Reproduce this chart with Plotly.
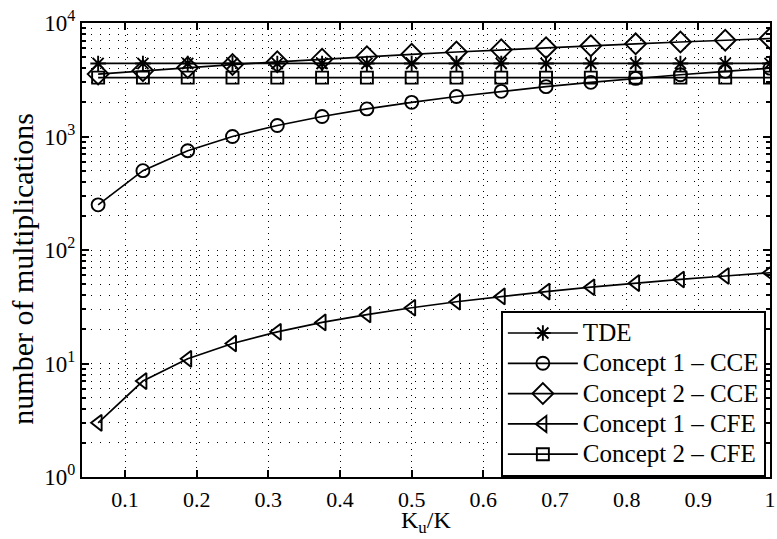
import plotly.graph_objects as go

# K_u / K ratios (1/16 ... 16/16)
ku_ratio = [0.0625, 0.125, 0.1875, 0.25, 0.3125, 0.375, 0.4375, 0.5,
            0.5625, 0.625, 0.6875, 0.75, 0.8125, 0.875, 0.9375, 1.0]

# number of multiplications per scheme
tde = [4400, 4400, 4400, 4400, 4400, 4400, 4400, 4400,
       4400, 4400, 4400, 4400, 4400, 4400, 4400, 4400]
concept1_cce = [250, 500, 750, 1000, 1250, 1500, 1750, 2000,
                2250, 2500, 2750, 3000, 3250, 3500, 3750, 4000]
concept2_cce = [3550, 3800, 4050, 4300, 4550, 4800, 5050, 5300,
                5550, 5800, 6050, 6300, 6550, 6800, 7050, 7300]
concept1_cfe = [3, 7, 11, 15, 19, 23, 27, 31,
                35, 39, 43, 47, 51, 55, 59, 63]
concept2_cfe = [3300, 3300, 3300, 3300, 3300, 3300, 3300, 3300,
                3300, 3300, 3300, 3300, 3300, 3300, 3300, 3300]

series_names = ["TDE", "Concept 1 \u2013 CCE", "Concept 2 \u2013 CCE",
                "Concept 1 \u2013 CFE", "Concept 2 \u2013 CFE"]
series_values = [tde, concept1_cce, concept2_cce, concept1_cfe, concept2_cfe]
series_symbols = ["asterisk-open", "circle-open", "diamond-open",
                  "triangle-left-open", "square-open"]
series_sizes = [13, 13, 16, 14, 12]

x_ticks = [0.1, 0.2, 0.3, 0.4, 0.5, 0.6, 0.7, 0.8, 0.9, 1.0]
x_ticktext = ["0.1", "0.2", "0.3", "0.4", "0.5", "0.6", "0.7", "0.8", "0.9", "1"]
y_ticks = [1, 10, 100, 1000, 10000]
y_ticktext = ["10<sup>0</sup>", "10<sup>1</sup>", "10<sup>2</sup>",
              "10<sup>3</sup>", "10<sup>4</sup>"]
y_minor = [m * 10 ** e for e in range(4) for m in range(2, 10)]

FONT = "Liberation Serif"

fig = go.Figure()
for name, vals, sym, size in zip(series_names, series_values, series_symbols, series_sizes):
    fig.add_trace(go.Scatter(
        x=ku_ratio, y=vals,
        name='<span style="font-size:25px">' + name + '</span>',
        mode="lines+markers",
        line=dict(color="black", width=1.7),
        marker=dict(symbol=sym, size=size, color="black",
                    line=dict(color="black", width=1.9)),
    ))

fig.update_layout(
    width=777, height=539,
    margin=dict(l=82, r=1, t=23, b=62),
    paper_bgcolor="white", plot_bgcolor="white",
    font=dict(family=FONT, color="black", size=22),
    showlegend=True,
    legend=dict(
        x=0.994, y=0.366, xanchor="right", yanchor="top",
        bgcolor="white", bordercolor="black", borderwidth=2,
        font=dict(family=FONT, size=21, color="black"),
        itemwidth=70, tracegroupgap=0,
    ),
    annotations=[
        # y-axis label, slightly below the plot-area centre
        dict(text="number of multiplications", textangle=-90,
             xref="paper", yref="paper", x=-0.0865, y=0.46,
             xanchor="center", yanchor="middle", showarrow=False,
             font=dict(family=FONT, size=30, color="black")),
        # x-axis label just under the tick labels
        dict(text="K<sub>u</sub>/K",
             xref="paper", yref="paper", x=0.5, y=-0.061,
             xanchor="center", yanchor="top", showarrow=False,
             font=dict(family=FONT, size=24, color="black")),
    ],
)

fig.update_xaxes(
    range=[0.04, 1.0],
    tickmode="array", tickvals=x_ticks, ticktext=x_ticktext,
    ticks="inside", ticklen=7, tickwidth=1.5, tickcolor="black",
    ticklabelstandoff=2, ticklabeloverflow="allow",
    showline=True, linecolor="black", linewidth=2, mirror="allticks",
    showgrid=True, gridcolor="black", gridwidth=1, griddash="1px,5px",
    zeroline=False,
    tickfont=dict(family=FONT, size=22),
)

fig.update_yaxes(
    type="log", range=[0, 4],
    tickmode="array", tickvals=y_ticks, ticktext=y_ticktext,
    ticks="inside", ticklen=7, tickwidth=1.5, tickcolor="black",
    showline=True, linecolor="black", linewidth=2, mirror="allticks",
    showgrid=True, gridcolor="black", gridwidth=1, griddash="1px,8px",
    zeroline=False,
    minor=dict(tickmode="array", tickvals=y_minor, ticks="inside", ticklen=4,
               tickcolor="black", showgrid=True, gridcolor="black",
               gridwidth=1, griddash="1px,8px"),
    tickfont=dict(family=FONT, size=23),
)

fig.write_html("out.html")
